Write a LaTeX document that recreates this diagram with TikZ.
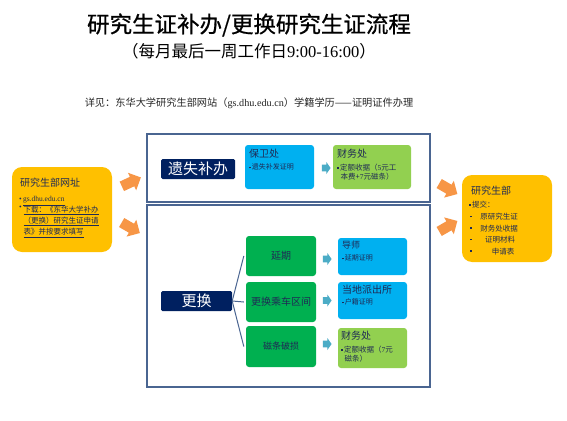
\documentclass[tikz,border=0pt]{standalone}
\usepackage{fontspec}
\setmainfont{Liberation Serif}
\newfontfamily\cjk{Noto Sans CJK SC}[AutoFakeBold=0.7]
\usetikzlibrary{shapes.arrows}
\definecolor{gold}{HTML}{FFC000}
\definecolor{orng}{HTML}{F79646}
\definecolor{navy}{HTML}{002060}
\definecolor{frame}{HTML}{4A6591}
\definecolor{sky}{HTML}{00B0F0}
\definecolor{dgreen}{HTML}{00B050}
\definecolor{lgreen}{HTML}{92D050}
\definecolor{chev}{HTML}{4BACC6}
\definecolor{txt}{HTML}{1F2A55}
\newcommand\sqb{\raisebox{1.2pt}{\rule{1.6pt}{1.6pt}}\,}
\newcommand\fs[1]{\fontsize{#1}{#1}\selectfont}
\begin{document}
\begin{tikzpicture}[x=1pt,y=-1pt,
  frm/.style={draw=frame, line width=1.3pt, minimum width=283pt},
  lbl/.style={fill=navy, text=white, rounded corners=1.5pt, inner sep=0, font=\cjk\fs{15}},
  boxs/.style={rounded corners=3pt, inner sep=0},
  gbox/.style={boxs, fill=dgreen, minimum width=70pt, text=txt},
  tt/.style={anchor=north west, inner sep=0, text=txt, align=left},
  ct/.style={inner sep=0, text=txt, font=\cjk\fs{7.5}},
  oarr/.style={single arrow, fill=orng, draw=none, minimum height=21pt, minimum width=19pt,
    single arrow head extend=4.5pt, single arrow tip angle=90, inner sep=5pt},
  carr/.style={single arrow, fill=chev, draw=none, minimum height=7.5pt, minimum width=12pt,
    single arrow head extend=2.5pt, single arrow tip angle=110, inner sep=3pt},
  conn/.style={draw=frame, line width=1pt}
]
\useasboundingbox (0,0) rectangle (567,420);
\fill[white] (0,0) rectangle (567,420);

% titles
\node[inner sep=0, font=\cjk\fs{22.5}\bfseries] (title) at (249,25) {研究生证补办/更换研究生证流程};
\node[inner sep=0] (sub) at (249,51) {{\cjk\fs{16.5}（每月最后一周工作日}{\fs{16.5}9:00-16:00}{\cjk\fs{16.5}）}};
\node[inner sep=0, text=black!85] (note) at (249,103) {{\cjk\fs{10.2}详见：东华大学研究生部网站（}{\fs{10.2}gs.dhu.edu.cn}{\cjk\fs{10.2}）学籍学历——证明证件办理}};

% left box
\node[fill=gold, rounded corners=10pt, minimum width=100pt, minimum height=85pt, inner sep=0] (lb) at (62,209.5) {};
\node[tt, font=\cjk\fs{10}] (lbh) at (20,178) {研究生部网址};
\node[tt, font=\fs{7.5}] (lb1) at (19,196.5) {•\,\underline{gs.dhu.edu.cn}};
\node[tt, font=\fs{7.5}] (lb2) at (19,205.5) {•};
\node[tt, font=\cjk\fs{7.5}] (lb3) at (23.5,205.5) {\underline{下载：《东华大学补办}\\[1.3pt]\underline{（更换）研究生证申请}\\[1.3pt]\underline{表》并按要求填写}};

% right box
\node[fill=gold, rounded corners=10pt, minimum width=90pt, minimum height=87pt, inner sep=0] (rb) at (507,218.5) {};
\node[tt, font=\cjk\fs{10}] (rbh) at (471,186) {研究生部};
\node[tt, font=\cjk\fs{7.5}] (rb0) at (469,200.5) {\sqb 提交：};
\node[ct, anchor=west] (rq1) at (470,217) {\sqb};
\node[ct, anchor=west] (rq2) at (470,228.5) {\sqb};
\node[ct, anchor=west] (rq3) at (470,240) {\sqb};
\node[ct, anchor=west] (rq4) at (470,251.5) {\sqb};
\node[ct] (rb1) at (499,217) {原研究生证};
\node[ct] (rb2) at (499,228.5) {财务处收据};
\node[ct] (rb3) at (500,240) {证明材料};
\node[ct] (rb4) at (503,251.5) {申请表};

% frames
\node[frm, minimum height=68pt] (f1) at (288.5,168) {};
\node[frm, minimum height=182pt] (f2) at (288.5,296) {};

% upper row
\node[lbl, minimum width=74pt, minimum height=20pt] (ys) at (198,169) {遗失补办};
\node[boxs, fill=sky, minimum width=69pt, minimum height=44pt] (bw) at (279.5,167) {};
\node[tt, font=\cjk\fs{10}] (bwh) at (249,149) {保卫处};
\node[tt, font=\cjk\fs{7}] (bwt) at (249,163.5) {\sqb 遗失补发证明};
\node[carr] (c1) at (325,168) {};
\node[boxs, fill=lgreen, minimum width=78pt, minimum height=44pt] (cw1) at (372,167) {};
\node[tt, font=\cjk\fs{10}] (cw1h) at (337,149) {财务处};
\node[tt, font=\cjk\fs{7.5}] (cw1t) at (337,163.5) {\sqb 定额收据（{\rmfamily 5}元工\\[1.5pt]\hspace{3.5pt}本费+{\rmfamily 7}元磁条）};

% lower section
\node[lbl, minimum width=71pt, minimum height=20pt] (gh) at (196.5,301) {更换};
\node[gbox, minimum height=40pt, font=\cjk\fs{10}] (yq) at (281,256) {延期};
\node[gbox, minimum height=40pt, font=\cjk\fs{10}] (cc) at (281,302) {更换乘车区间};
\node[gbox, minimum height=41pt, font=\cjk\fs{9}] (ctp) at (281,346.5) {磁条破损};
\draw[conn] (gh.east) -- ([xshift=-2pt]yq.west);
\draw[conn] (gh.east) -- ([xshift=-2pt]cc.west);
\draw[conn] (gh.east) -- ([xshift=-2pt]ctp.west);

\node[carr] (c2) at (326,259) {};
\node[carr] (c3) at (326,300.5) {};
\node[carr] (c4) at (326,344) {};

\node[boxs, fill=sky, minimum width=69pt, minimum height=37pt] (ds) at (372.5,256.5) {};
\node[tt, font=\cjk\fs{9}] (dsh) at (342,241) {导师};
\node[tt, font=\cjk\fs{7}] (dst) at (342,254.5) {\sqb 延期证明};
\node[boxs, fill=sky, minimum width=69pt, minimum height=37pt] (pc) at (372.5,300.5) {};
\node[tt, font=\cjk\fs{10}] (pch) at (342,285) {当地派出所};
\node[tt, font=\cjk\fs{7}] (pct) at (342,298.5) {\sqb 户籍证明};
\node[boxs, fill=lgreen, minimum width=69pt, minimum height=40pt] (cw2) at (372.5,348) {};
\node[tt, font=\cjk\fs{10}] (cw2h) at (341,331) {财务处};
\node[tt, font=\cjk\fs{7.5}] (cw2t) at (341,345.5) {\sqb 定额收据（{\rmfamily 7}元\\[1.5pt]\hspace{3.5pt}磁条）};

% orange arrows
\node[oarr, rotate=25] (a1) at (129,183) {};
\node[oarr, rotate=-30] (a2) at (128.5,226.5) {};
\node[oarr, rotate=-30] (a3) at (446,187.5) {};
\node[oarr, rotate=30] (a4) at (446,227.5) {};
\end{tikzpicture}
\end{document}
